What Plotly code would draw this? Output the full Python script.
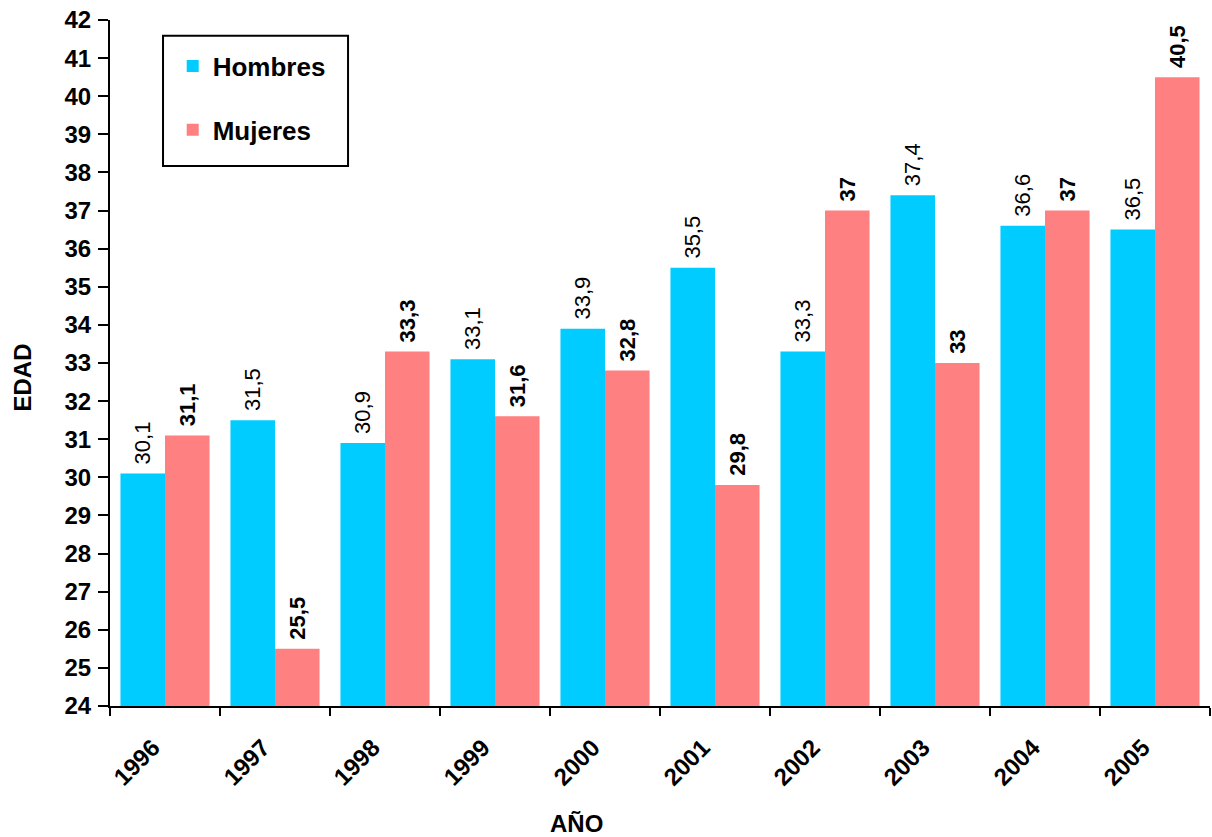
import plotly.graph_objects as go

# Edad media por año y sexo
years = ["1996", "1997", "1998", "1999", "2000", "2001", "2002", "2003", "2004", "2005"]
hombres = [30.1, 31.5, 30.9, 33.1, 33.9, 35.5, 33.3, 37.4, 36.6, 36.5]
mujeres = [31.1, 25.5, 33.3, 31.6, 32.8, 29.8, 37.0, 33.0, 37.0, 40.5]

FONT = "Liberation Sans, Arial"
NBSP = "\u00a0"


def fmt(v):
    return f"{v:g}".replace(".", ",")


fig = go.Figure()
fig.add_trace(go.Bar(
    x=years, y=hombres, name="Hombres",
    marker=dict(color="#00CCFF", line=dict(width=0)),
    text=[NBSP + fmt(v) for v in hombres], textposition="outside", textangle=-90,
    constraintext="none",
    textfont=dict(family=FONT, size=22, color="black"),
    cliponaxis=False, legendgroup="h",
))
fig.add_trace(go.Bar(
    x=years, y=mujeres, name="Mujeres",
    marker=dict(color="#FF8080", line=dict(width=0)),
    text=[NBSP + "<b>" + fmt(v) + "</b>" for v in mujeres], textposition="outside", textangle=-90,
    constraintext="none",
    textfont=dict(family=FONT, size=22, color="black"),
    cliponaxis=False, legendgroup="m",
))

# legend frame drawn as a shape so its size matches the original
fig.add_shape(type="rect", xref="paper", yref="paper",
              x0=0.0482, x1=0.2164, y0=0.787, y1=0.977,
              line=dict(color="black", width=2), fillcolor="white", layer="below")

# axis titles as annotations (the original's AÑO is not centred on the plot)
fig.add_annotation(text="<b>AÑO</b>", xref="paper", yref="paper",
                   x=0.4245, y=-0.194, showarrow=False,
                   font=dict(size=24, family=FONT, color="black"))
fig.add_annotation(text="<b>EDAD</b>", xref="paper", yref="paper",
                   x=-0.094, y=0.479, showarrow=False, textangle=-90,
                   font=dict(size=24, family=FONT, color="black"))

fig.update_layout(
    width=1212, height=837,
    margin=dict(l=110, r=2, t=20, b=131),
    paper_bgcolor="white", plot_bgcolor="white",
    barmode="group", bargap=0.19, bargroupgap=0,
    font=dict(family=FONT, color="black"),
    showlegend=True,
    legend=dict(
        x=0.057, y=0.967, xanchor="left", yanchor="top",
        bgcolor="rgba(0,0,0,0)", borderwidth=0,
        font=dict(size=26, family=FONT, color="black", weight="bold"),
        traceorder="grouped", tracegroupgap=27,
        itemwidth=30,
    ),
    xaxis=dict(
        type="category", tickson="boundaries",
        showline=True, linecolor="black", linewidth=2,
        ticks="outside", ticklen=8, tickwidth=2, tickcolor="black",
        tickangle=-45, tickfont=dict(size=24, weight="bold"),
        ticklabelstandoff=16, ticklabelshift=-12,
        showgrid=False,
    ),
    yaxis=dict(
        range=[24, 42], dtick=1,
        showline=True, linecolor="black", linewidth=2,
        ticks="outside", ticklen=10, tickwidth=2, tickcolor="black",
        tickfont=dict(size=24, weight="bold"), ticklabelstandoff=2,
        showgrid=False, zeroline=False,
    ),
)

fig.write_html("out.html", config={"displayModeBar": False},
               post_script="document.body.style.margin='0';")
